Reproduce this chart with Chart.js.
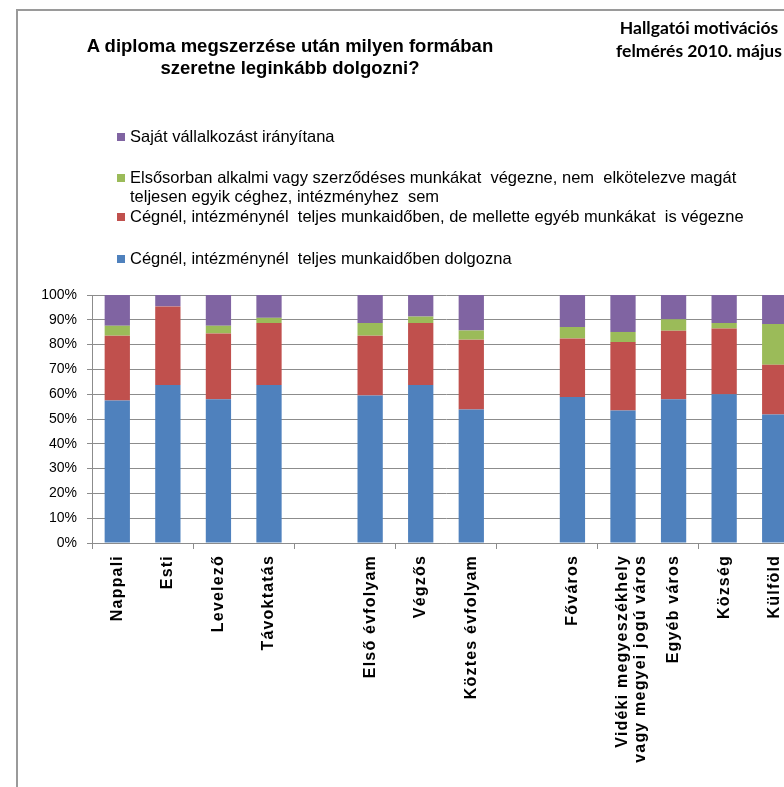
<!DOCTYPE html>
<html>
<head>
<meta charset="utf-8">
<script src="https://cdn.jsdelivr.net/npm/chart.js@4"></script>
<style>
  html, body { margin: 0; padding: 0; overflow: hidden; background: #fff; }
  #wrap { position: relative; width: 800px; height: 787px; }
  #frame { position: absolute; left: 16px; top: 9px; width: 800px; height: 800px;
           border-left: 2px solid #9a9a9a; border-top: 2px solid #9a9a9a; }
  canvas { position: absolute; left: 0; top: 0; }
  .title { position: absolute; left: 60px; width: 460px; top: 35px; text-align: center;
           font: bold 18.5px "Liberation Sans", Arial, sans-serif; line-height: 22px; color: #000; }
  .sub { position: absolute; left: 604px; width: 190px; top: 16px; text-align: center;
         font: bold 17.5px Lato, "Open Sans", sans-serif; line-height: 23px; color: #000; }
  .leg { position: absolute; left: 117px; font: 16.5px "Liberation Sans", Arial, sans-serif;
         color: #000; line-height: 19px; }
  .leg i { display: inline-block; width: 8px; height: 8px; margin-right: 5px; vertical-align: 1px; }
  .leg span.indent { padding-left: 13px; }
</style>
</head>
<body>
<div id="wrap">
  <div id="frame"></div>
  <canvas id="chart" width="800" height="787"></canvas>
  <div class="title">A diploma megszerzése után milyen formában<br>szeretne leginkább dolgozni?</div>
  <div class="sub">Hallgatói motivációs<br>felmérés 2010. május</div>
  <div id="legend"></div>
</div>
<script>
// categories (empty strings are the gaps between groups)
const categories = [
  'Nappali', 'Esti', 'Levelező', 'Távoktatás', '',
  'Első évfolyam', 'Végzős', 'Köztes évfolyam', '',
  'Főváros', ['Vidéki megyeszékhely', 'vagy megyei jogú város'], 'Egyéb város', 'Község', 'Külföld'
];

// series values in percent
const fullTime      = [57.5, 63.7, 58.0, 63.7, null, 59.5, 63.7, 53.8, null, 58.9, 53.4, 58.0, 60.0, 51.8];
const fullTimePlus  = [26.1, 31.7, 26.5, 25.0, null, 24.1, 25.0, 28.2, null, 23.6, 27.6, 27.6, 26.5, 20.1];
const freelance     = [4.0, 0, 3.1, 2.1, null, 5.1, 2.6, 3.7, null, 4.6, 4.1, 4.6, 2.2, 16.4];
const ownBusiness   = [12.4, 4.6, 12.4, 9.2, null, 11.3, 8.7, 14.3, null, 12.9, 14.9, 9.8, 11.3, 11.7];

const seriesNames = [
  'Cégnél, intézménynél  teljes munkaidőben dolgozna',
  'Cégnél, intézménynél  teljes munkaidőben, de mellette egyéb munkákat  is végezne',
  'Elsősorban alkalmi vagy szerződéses munkákat  végezne, nem  elkötelezve magát teljesen egyik céghez, intézményhez  sem',
  'Saját vállalkozást irányítana'
];
const seriesColors = ['#4F81BD', '#C0504D', '#9BBB59', '#8064A2'];

const yTicks = [0, 10, 20, 30, 40, 50, 60, 70, 80, 90, 100];

// legend (top to bottom, reverse order like the original)
const legendRows = [
  { s: 3, top: 127 },
  { s: 2, top: 168, lines: ['Elsősorban alkalmi vagy szerződéses munkákat  végezne, nem  elkötelezve magát', 'teljesen egyik céghez, intézményhez  sem'] },
  { s: 1, top: 207 },
  { s: 0, top: 249 }
];
const legendEl = document.getElementById('legend');
legendRows.forEach(r => {
  const d = document.createElement('div');
  d.className = 'leg';
  d.style.top = r.top + 'px';
  const sw = `<i style="background:${seriesColors[r.s]}"></i>`;
  if (r.lines) {
    d.innerHTML = sw + r.lines[0] + '<br><span class="indent">' + r.lines[1] + '</span>';
  } else {
    d.innerHTML = sw + seriesNames[r.s];
  }
  d.style.whiteSpace = 'pre';
  legendEl.appendChild(d);
});

const gridGray = '#8c8c8c';

const ctx = document.getElementById('chart').getContext('2d');
new Chart(ctx, {
  type: 'bar',
  data: {
    labels: categories,
    datasets: [fullTime, fullTimePlus, freelance, ownBusiness].map((vals, i) => ({
      label: seriesNames[i],
      data: vals,
      backgroundColor: seriesColors[i],
      borderWidth: 0,
      barPercentage: 0.5,
      categoryPercentage: 1
    }))
  },
  options: {
    responsive: false,
    animation: false,
    layout: { padding: { top: 295, left: 0, right: 0, bottom: 0 } },
    plugins: {
      legend: { display: false },
      title: { display: false },
      tooltip: { enabled: false }
    },
    scales: {
      x: {
        stacked: true,
        grid: {
          drawOnChartArea: false,
          offset: true,
          tickLength: 6,
          tickColor: c => (c.index % 2 === 0 ? gridGray : 'rgba(0,0,0,0)')
        },
        border: { display: true, color: gridGray, width: 1 },
        ticks: {
          autoSkip: false,
          maxRotation: 90,
          minRotation: 90,
          padding: 6,
          color: '#000',
          font: { family: '"Liberation Sans", Arial, sans-serif', size: 16, weight: 'bold', lineHeight: 1.1 }
        },
        afterFit: scale => {
          scale.height = 244;
          if (!scale._spaced) {
            const orig = scale.drawLabels.bind(scale);
            scale.drawLabels = function (area) {
              const c = this.ctx;
              const prev = c.letterSpacing;
              c.letterSpacing = '1.2px';
              orig(area);
              c.letterSpacing = prev;
            };
            scale._spaced = true;
          }
        }
      },
      y: {
        stacked: true,
        min: 0,
        max: 100,
        afterBuildTicks: scale => { scale.ticks = yTicks.map(v => ({ value: v })); },
        grid: { color: gridGray, tickLength: 5, drawTicks: true },
        border: { display: true, color: gridGray, width: 1 },
        ticks: {
          padding: 10,
          color: '#000',
          font: { family: '"Liberation Sans", Arial, sans-serif', size: 14 },
          callback: v => v + '%'
        },
        afterFit: scale => { scale.width = 92; }
      }
    }
  }
});
</script>
</body>
</html>
